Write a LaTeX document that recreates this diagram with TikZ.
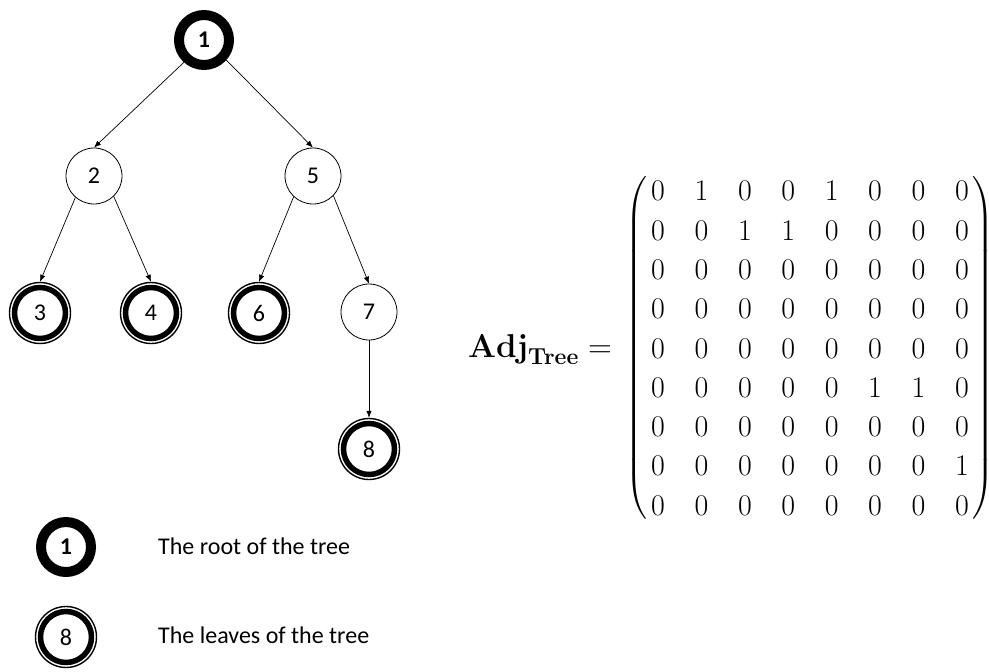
\RequirePackage{fix-cm}
\documentclass[tikz,border=0pt]{standalone}
\usepackage{exscale}
\usepackage[no-math]{fontspec}
\setmainfont{Carlito}
\usetikzlibrary{arrows.meta,matrix}

\begin{document}
\begin{tikzpicture}[x=1pt,y=-1pt,
  every node/.style={font=\fontsize{24}{29}\selectfont},
  plain/.style={circle, draw, line width=0.8pt, minimum size=56pt, inner sep=0pt},
  rootnode/.style={circle, draw, line width=10pt, minimum size=50pt, inner sep=0pt,
    font=\fontsize{24}{29}\selectfont\bfseries},
  leafnode/.style={circle, draw, line width=1.4pt, minimum size=61pt, inner sep=0pt,
    label={[circle, draw, line width=5.5pt, minimum size=51pt, inner sep=0pt]center:}},
  edge/.style={-{Latex[length=7pt,width=5.5pt]}, line width=0.7pt},
  legendtext/.style={anchor=base west, inner sep=0pt},
  mathbig/.style={font=\fontsize{30}{36}\selectfont},
  every delimiter/.style={mathbig},
]
\path[use as bounding box, fill=white] (0,0) rectangle (989,672);

% tree
\node[rootnode] (n1) at (204,40) {1};
\node[plain]    (n2) at (94,176) {2};
\node[plain]    (n5) at (313,176) {5};
\node[leafnode] (n3) at (40,313) {3};
\node[leafnode] (n4) at (151,313) {4};
\node[leafnode] (n6) at (259,313) {6};
\node[plain]    (n7) at (369,312) {7};
\node[leafnode] (n8) at (369,449) {8};

\draw[edge] (n1.-132) -- (n2.north);
\draw[edge] (n1.-42)  -- (n5.north);
\draw[edge] (n2.-131) -- (n3.north);
\draw[edge] (n2.-46)  -- (n4.north);
\draw[edge] (n5.-133) -- (n6.north);
\draw[edge] (n5.-44)  -- (n7.north);
\draw[edge] (n7.south) -- (n8.north);

% legend
\node[rootnode] (keyroot) at (66,547) {1};
\node[leafnode] (keyleaf) at (66,637) {8};
\node[legendtext] (keyroottext) at (158,554) {The root of the tree};
\node[legendtext] (keyleaftext) at (158,643) {The leaves of the tree};

% adjacency matrix
\node[anchor=base east, inner sep=0pt, font=\fontsize{33}{40}\selectfont]
  (adjlabel) at (612,357) {$\mathbf{Adj}_{\mathbf{Tree}} =$};

\matrix (adj) [matrix of math nodes,
  left delimiter=(, right delimiter=),
  mathbig,
  row sep=19.3pt, column sep=28.4pt, inner xsep=1.5pt, inner ysep=5pt,
  nodes={inner sep=0pt, text height=20pt, text depth=0pt, minimum width=15pt,
    mathbig}] at (810,348) {
0 & 1 & 0 & 0 & 1 & 0 & 0 & 0 \\
0 & 0 & 1 & 1 & 0 & 0 & 0 & 0 \\
0 & 0 & 0 & 0 & 0 & 0 & 0 & 0 \\
0 & 0 & 0 & 0 & 0 & 0 & 0 & 0 \\
0 & 0 & 0 & 0 & 0 & 0 & 0 & 0 \\
0 & 0 & 0 & 0 & 0 & 1 & 1 & 0 \\
0 & 0 & 0 & 0 & 0 & 0 & 0 & 0 \\
0 & 0 & 0 & 0 & 0 & 0 & 0 & 1 \\
0 & 0 & 0 & 0 & 0 & 0 & 0 & 0 \\
};
\end{tikzpicture}
\end{document}
